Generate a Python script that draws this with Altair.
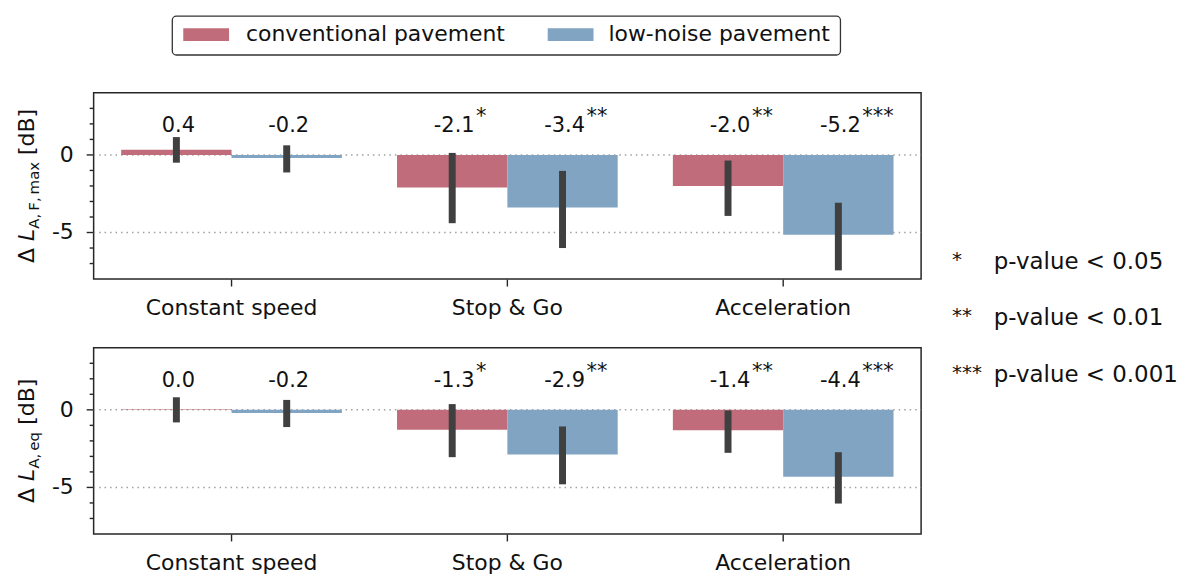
import altair as alt
import pandas as pd

FONT = "DejaVu Sans"

maneuvers = ["Constant speed", "Stop & Go", "Acceleration"]
pavements = ["conventional pavement", "low-noise pavement"]
colors = ["#C06C7A", "#80A4C2"]

# Panel 1: delta L_A,F,max
fmax_conv = [0.33, -2.10, -2.00]
fmax_low = [-0.20, -3.38, -5.15]
fmax_conv_lo = [-0.50, -4.40, -3.93]
fmax_conv_hi = [1.15, 0.13, -0.36]
fmax_low_lo = [-1.13, -6.00, -7.44]
fmax_low_hi = [0.62, -1.03, -3.08]
fmax_conv_lab = ["0.4", "-2.1", "-2.0"]
fmax_low_lab = ["-0.2", "-3.4", "-5.2"]

# Panel 2: delta L_A,eq
leq_conv = [0.04, -1.28, -1.32]
leq_low = [-0.21, -2.88, -4.31]
leq_conv_lo = [-0.81, -3.05, -2.77]
leq_conv_hi = [0.81, 0.37, -0.04]
leq_low_lo = [-1.11, -4.80, -6.04]
leq_low_hi = [0.64, -1.07, -2.73]
leq_conv_lab = ["0.0", "-1.3", "-1.4"]
leq_low_lab = ["-0.2", "-2.9", "-4.4"]

conv_stars = ["", "*", "**"]
low_stars = ["", "**", "***"]

sig_marks = ["*", "**", "***"]
sig_texts = ["p-value < 0.05", "p-value < 0.01", "p-value < 0.001"]

major_ticks = [0, -5]
major_labels = ["0", "-5"]
minor_ticks = [3, 2, 1, -1, -2, -3, -4, -6, -7]


def make_df(cm, lm, clo, chi, llo, lhi, clab, llab):
    rows = []
    for i, m in enumerate(maneuvers):
        rows.append(dict(maneuver=m, pavement=pavements[0], value=cm[i], lo=clo[i],
                         hi=chi[i], label=clab[i], stars=conv_stars[i]))
        rows.append(dict(maneuver=m, pavement=pavements[1], value=lm[i], lo=llo[i],
                         hi=lhi[i], label=llab[i], stars=low_stars[i]))
    return pd.DataFrame(rows)


df_fmax = make_df(fmax_conv, fmax_low, fmax_conv_lo, fmax_conv_hi, fmax_low_lo,
                  fmax_low_hi, fmax_conv_lab, fmax_low_lab)
df_leq = make_df(leq_conv, leq_low, leq_conv_lo, leq_conv_hi, leq_low_lo,
                 leq_low_hi, leq_conv_lab, leq_low_lab)
df_major = pd.DataFrame({"v": major_ticks, "lab": major_labels})
df_minor = pd.DataFrame({"v": minor_ticks})

W, H = 831, 187
ysc = alt.Scale(domain=[-8, 4], nice=False)
FRAME = "#262626"


def one(txt):
    return pd.DataFrame({"t": [txt]})


def piece(txt, x, y, size, style="normal"):
    return alt.Chart(one(txt)).mark_text(
        font=FONT, fontSize=size, fontStyle=style, angle=270, align="left",
        baseline="alphabetic", color="#111",
    ).encode(text="t:N", x=alt.value(x), y=alt.value(y))


def flat(txt, x, y, size, align="left", dy=0, baseline="alphabetic"):
    return alt.Chart(one(txt)).mark_text(
        font=FONT, fontSize=size, align=align, baseline=baseline,
        color="#111", dy=dy,
    ).encode(text="t:N", x=alt.value(x), y=alt.value(y))


def box(x1, x2, y1, y2, fill, stroke=None, sw=0, r=0):
    kw = dict(fill=fill, cornerRadius=r)
    if stroke:
        kw.update(stroke=stroke, strokeWidth=sw)
    return alt.Chart(one("")).mark_rect(**kw).encode(
        x=alt.value(x1), x2=alt.value(x2), y=alt.value(y1), y2=alt.value(y2))


def panel(df, sub, sub_len, extra):
    yq = lambda f: alt.Y(f, scale=ysc, axis=None)
    xenc = alt.X(
        "maneuver:N", sort=maneuvers,
        scale=alt.Scale(paddingInner=0.2, paddingOuter=0.1),
        axis=alt.Axis(title=None, labelAngle=0, labelFontSize=22, labelPadding=12,
                      tickSize=7, grid=False, domain=False),
    )
    xoff = alt.XOffset("pavement:N", sort=pavements,
                       scale=alt.Scale(paddingInner=0, paddingOuter=0))
    # y axis: dotted grid, major/minor ticks, labels
    mj = alt.Chart(df_major)
    grid = mj.mark_rule(strokeDash=[1.5, 4], color="#a0a0a0", strokeWidth=1.5).encode(
        y=yq("v:Q"), x=alt.value(0), x2=alt.value(W))
    mticks = mj.mark_rule(color=FRAME, strokeWidth=1.4).encode(
        y=yq("v:Q"), x=alt.value(-7), x2=alt.value(0))
    mlabels = mj.mark_text(font=FONT, fontSize=22, align="right", baseline="middle",
                           color="#111").encode(y=yq("v:Q"), x=alt.value(-20), text="lab:N")
    minor = alt.Chart(df_minor).mark_rule(color=FRAME, strokeWidth=1.4).encode(
        y=yq("v:Q"), x=alt.value(-4), x2=alt.value(0))

    base = alt.Chart(df).encode(x=xenc, xOffset=xoff)
    bars = base.mark_bar().encode(
        y=yq("value:Q"),
        y2=alt.datum(0),
        color=alt.Color("pavement:N", sort=pavements,
                        scale=alt.Scale(domain=pavements, range=colors), legend=None),
    )
    errs = base.mark_rule(strokeWidth=7, color="#404040").encode(
        y=yq("lo:Q"), y2="hi:Q")
    labs = base.mark_text(fontSize=21, font=FONT, baseline="alphabetic", dx=2,
                          color="#111").encode(
        y=alt.Y(datum=1.5, scale=ysc, axis=None), text="label:N")
    stars = base.mark_text(fontSize=21, font=FONT, align="left", baseline="alphabetic",
                           dx=24, dy=-9, color="#111").encode(
        y=alt.Y(datum=1.5, scale=ysc, axis=None), text="stars:N")
    # y-axis title pieces (rotated)
    total = 22 + 12.5 + sub_len + 7 + 46.2
    y0 = H / 2 + total / 2
    t = [
        piece("\u0394", -60, y0, 22),
        piece("L", -60, y0 - 22, 22, "italic"),
        piece(sub, -55, y0 - 34.5, 15),
        piece("[dB]", -60, y0 - 34.5 - sub_len - 7, 22),
    ]
    return alt.layer(grid, bars, errs, labs, stars, mticks, mlabels, minor,
                     *t, *extra).properties(width=W, height=H)


# significance key (right side)
sig = []
for i, (s, txt) in enumerate(zip(sig_marks, sig_texts)):
    yb = 177 + i * 56.5
    sig.append(flat(s, 862, yb, 20, dy=-3))
    sig.append(flat(txt, 904, yb, 23))

# pavement key (top, framed)
key = [
    box(79, 750, -77, -38, "white", "#333333", 1.3, 4),
    box(90, 136, -65, -52, colors[0]),
    flat(pavements[0], 153, -59, 22, baseline="middle"),
    box(456, 502, -65, -52, colors[1]),
    flat(pavements[1], 517, -59, 22, baseline="middle"),
]

top = panel(df_fmax, "A,\u2009F,\u2009max", 67, sig + key)
bottom = panel(df_leq, "A,\u2009eq", 37, [])

chart = alt.vconcat(top, bottom, spacing=69, bounds="flush").properties(
    padding={"left": 7, "top": 5, "right": 1, "bottom": 5}
).configure_view(
    stroke=FRAME, strokeWidth=1.5
).configure_axis(
    labelFont=FONT, labelColor="#111", tickColor=FRAME, tickWidth=1.4
)

chart.save("out.html", embed_options={"renderer": "svg", "actions": False})
